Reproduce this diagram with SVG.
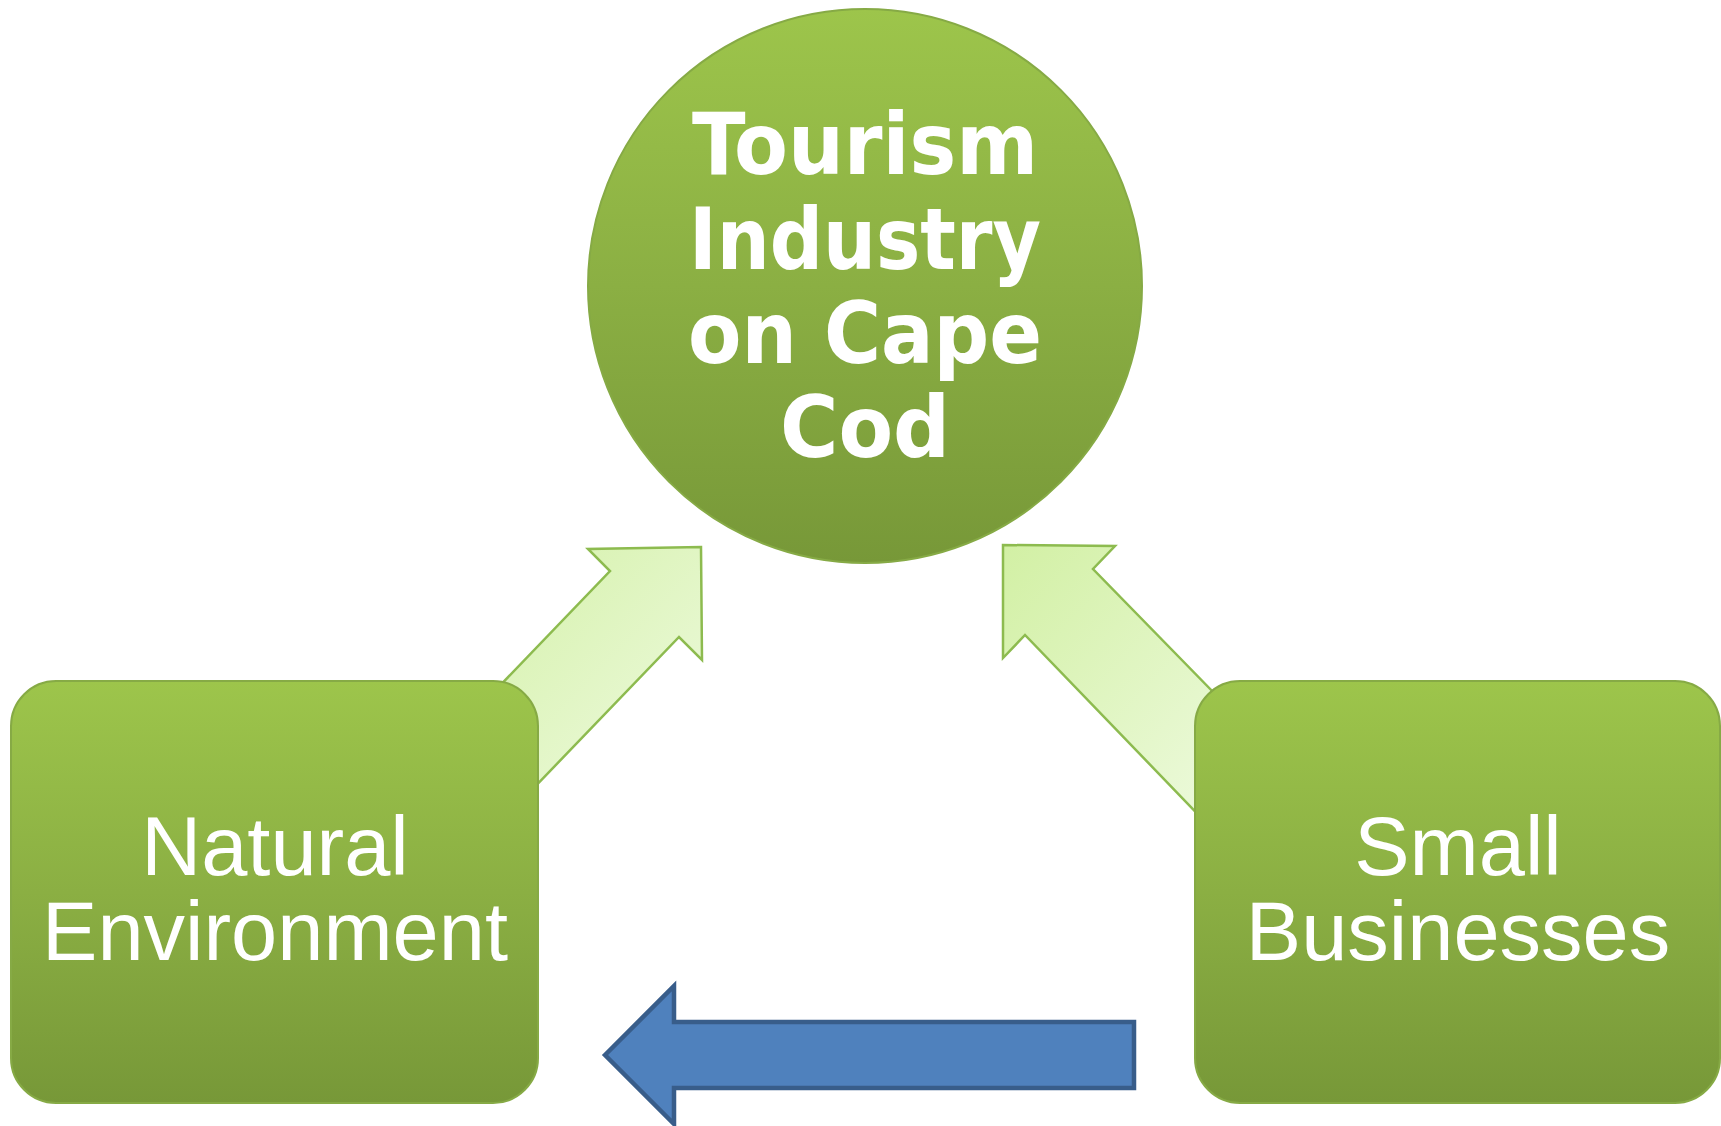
<svg xmlns="http://www.w3.org/2000/svg" width="1721" height="1126" viewBox="0 0 1721 1126">
  <defs>
    <linearGradient id="gGreen" x1="0" y1="0" x2="0" y2="1">
      <stop offset="0" stop-color="#9DC54B"/>
      <stop offset="0.5" stop-color="#8BAF43"/>
      <stop offset="1" stop-color="#779838"/>
    </linearGradient>
    <linearGradient id="gLight" x1="0" y1="0" x2="1" y2="1">
      <stop offset="0" stop-color="#D2F0A4"/>
      <stop offset="1" stop-color="#F0FBE3"/>
    </linearGradient>
    <linearGradient id="gLightR" x1="1" y1="1" x2="0" y2="0">
      <stop offset="0" stop-color="#F0FBE3"/>
      <stop offset="1" stop-color="#D2F0A4"/>
    </linearGradient>
  </defs>
  <style>
    .node { stroke: #86AA45; stroke-width: 2; }
    .big { font-family: "DejaVu Sans Condensed", "DejaVu Sans", "Liberation Sans", sans-serif; font-stretch: condensed; font-weight: bold; font-size: 86px; fill: #FFFFFF; text-anchor: middle; }
    .lbl { font-family: "Liberation Sans", Arial, sans-serif; font-size: 83px; fill: #FFFFFF; text-anchor: middle; }
    .garrow { stroke: #8DBB4F; stroke-width: 2.5; stroke-linejoin: miter; }
    .barrow { fill: #4F81BD; stroke: #385D8A; stroke-width: 4.5; stroke-linejoin: miter; }
  </style>
  <g id="connectors">
    <path class="garrow" fill="url(#gLight)" d="M 440 748 L 610 571 L 588 549 L 701 547 L 702 660 L 679 637 L 500 823 Z"/>
    <path class="garrow" fill="url(#gLightR)" d="M 1260 740 L 1093 569 L 1115 546 L 1003 545 L 1003 658 L 1025 635 L 1215 832 Z"/>
    <path class="barrow" d="M 605 1055 L 674 986 L 674 1022 L 1134 1022 L 1134 1088 L 674 1088 L 674 1124 Z"/>
  </g>
  <g id="node-tourism">
    <circle class="node" cx="865" cy="286" r="277" fill="url(#gGreen)"/>
    <text class="big" x="865" y="174" textLength="346" lengthAdjust="spacingAndGlyphs">Tourism</text>
    <text class="big" x="865" y="269" textLength="352" lengthAdjust="spacingAndGlyphs">Industry</text>
    <text class="big" x="865" y="363" textLength="354" lengthAdjust="spacingAndGlyphs">on Cape</text>
    <text class="big" x="865" y="457" textLength="170" lengthAdjust="spacingAndGlyphs">Cod</text>
  </g>
  <g id="node-natural">
    <rect class="node" x="11" y="681" width="527" height="422" rx="45" ry="45" fill="url(#gGreen)"/>
    <text class="lbl" x="275" y="875">Natural</text>
    <text class="lbl" x="275" y="960">Environment</text>
  </g>
  <g id="node-small">
    <rect class="node" x="1195" y="681" width="525" height="422" rx="45" ry="45" fill="url(#gGreen)"/>
    <text class="lbl" x="1458" y="875">Small</text>
    <text class="lbl" x="1458" y="960">Businesses</text>
  </g>
</svg>
